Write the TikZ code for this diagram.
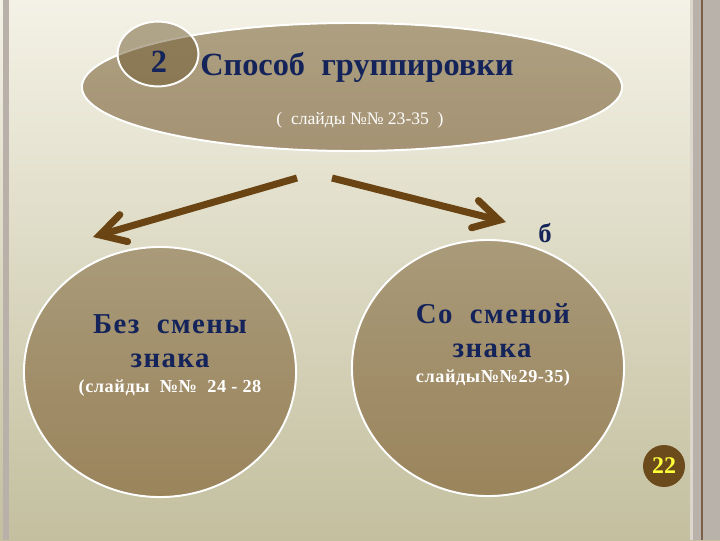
\documentclass[tikz,border=0pt]{standalone}
\usepackage{fontspec}
\setmainfont{Liberation Serif}
\newfontfamily\widefont[LetterSpace=5]{Liberation Serif}
\newfontfamily\numfont[LetterSpace=3]{Liberation Serif}
\usetikzlibrary{shapes.geometric,arrows.meta}
\definecolor{navy}{HTML}{14245A}
\definecolor{khaki}{HTML}{A99A79}
\definecolor{khakidark}{HTML}{9A845C}
\definecolor{ovaltop}{HTML}{ADA080}
\definecolor{ovalbottom}{HTML}{A49273}
\definecolor{badge}{HTML}{6E5A30}
\definecolor{arrowbrown}{HTML}{6A4412}
\definecolor{pagebrown}{HTML}{6B4A1C}
\definecolor{pageyellow}{HTML}{FFFF3A}
\definecolor{bgtop}{HTML}{F4F2E6}
\definecolor{bgmid}{HTML}{E8E4C9}
\definecolor{bgbottom}{HTML}{C3BF9F}
\definecolor{leftbar}{HTML}{B8B0A9}
\definecolor{rightbar}{HTML}{B9B2AB}
\definecolor{rightlight}{HTML}{DCD6CC}
\definecolor{rightline}{HTML}{7A6048}
\begin{document}
\begin{tikzpicture}[x=0.025cm,y=-0.025cm,
    oval/.style={ellipse,draw=white,line width=1.4pt,inner sep=0pt,
      top color=khaki,bottom color=khakidark},
    branch/.style={draw=arrowbrown,line width=5pt,
      -{Straight Barb[length=0.62cm,width=0.7cm,line cap=round]}},
    bigtext/.style={anchor=base,text=navy,font=\widefont\bfseries\fontsize{20.5}{24}\selectfont},
    smalltext/.style={anchor=base,text=white,font=\numfont\bfseries\fontsize{13}{15}\selectfont}]
  \useasboundingbox (0,0) rectangle (720,540);
  % background
  \fill[top color=bgtop,middle color=bgmid,bottom color=bgbottom]
    (0,0) rectangle (720,540);
  \fill[leftbar] (3,0) rectangle (9,540);
  \fill[rightbar] (690,0) rectangle (720,540);
  \fill[rightlight] (690,0) rectangle (693,540);
  \fill[rightline] (701,0) rectangle (702.5,540);
  % top oval
  \node[oval,minimum width=13.5cm,minimum height=3.2cm,
    top color=ovaltop,bottom color=ovalbottom] (method) at (352,87) {};
  \node[ellipse,draw=white,line width=1.4pt,fill=badge,fill opacity=0.5,
    minimum width=2.02cm,minimum height=1.62cm,inner sep=0pt] (num) at (158,54) {};
  \node[anchor=base,text=navy,font=\bfseries\fontsize{23}{26}\selectfont] (numtxt) at (159,72) {2};
  \node[anchor=base,text=navy,font=\bfseries\fontsize{23}{26}\selectfont] (title) at (357,75) {Способ\ \ группировки};
  \node[anchor=base,text=white,font=\fontsize{12.5}{14}\selectfont] (slides) at (360,124) {(\ \ слайды №№ 23-35\ \ )};
  % two circles
  \node[oval,minimum width=6.8cm,minimum height=6.25cm] (nochange) at (160,372) {};
  \node[oval,minimum width=6.8cm,minimum height=6.4cm] (change) at (488,368) {};
  \node[bigtext] (nc1) at (170,333) {Без\ \ смены};
  \node[bigtext] (nc2) at (170,367) {знака};
  \node[smalltext] (nc3) at (170,392) {(слайды\ \ №№\ \ 24 - 28};
  \node[bigtext] (c1) at (493,323) {Со\ \ сменой};
  \node[bigtext] (c2) at (492,357) {знака};
  \node[smalltext] (c3) at (493,382) {слайды№№29-35)};
  \node[anchor=base,text=navy,font=\bfseries\fontsize{19}{22}\selectfont] (b) at (545,242) {б};
  % arrows
  \coordinate (ltail) at (297,178);
  \coordinate (lhead) at (93,237);
  \coordinate (rtail) at (332,178);
  \coordinate (rhead) at (506,222);
  \draw[branch] (ltail) -- (lhead);
  \draw[branch] (rtail) -- (rhead);
  % page number
  \node[circle,fill=pagebrown,minimum size=1.05cm,inner sep=0pt,
    text=pageyellow,font=\bfseries\fontsize{17}{20}\selectfont] (page) at (664,466) {22};
\end{tikzpicture}
\end{document}
